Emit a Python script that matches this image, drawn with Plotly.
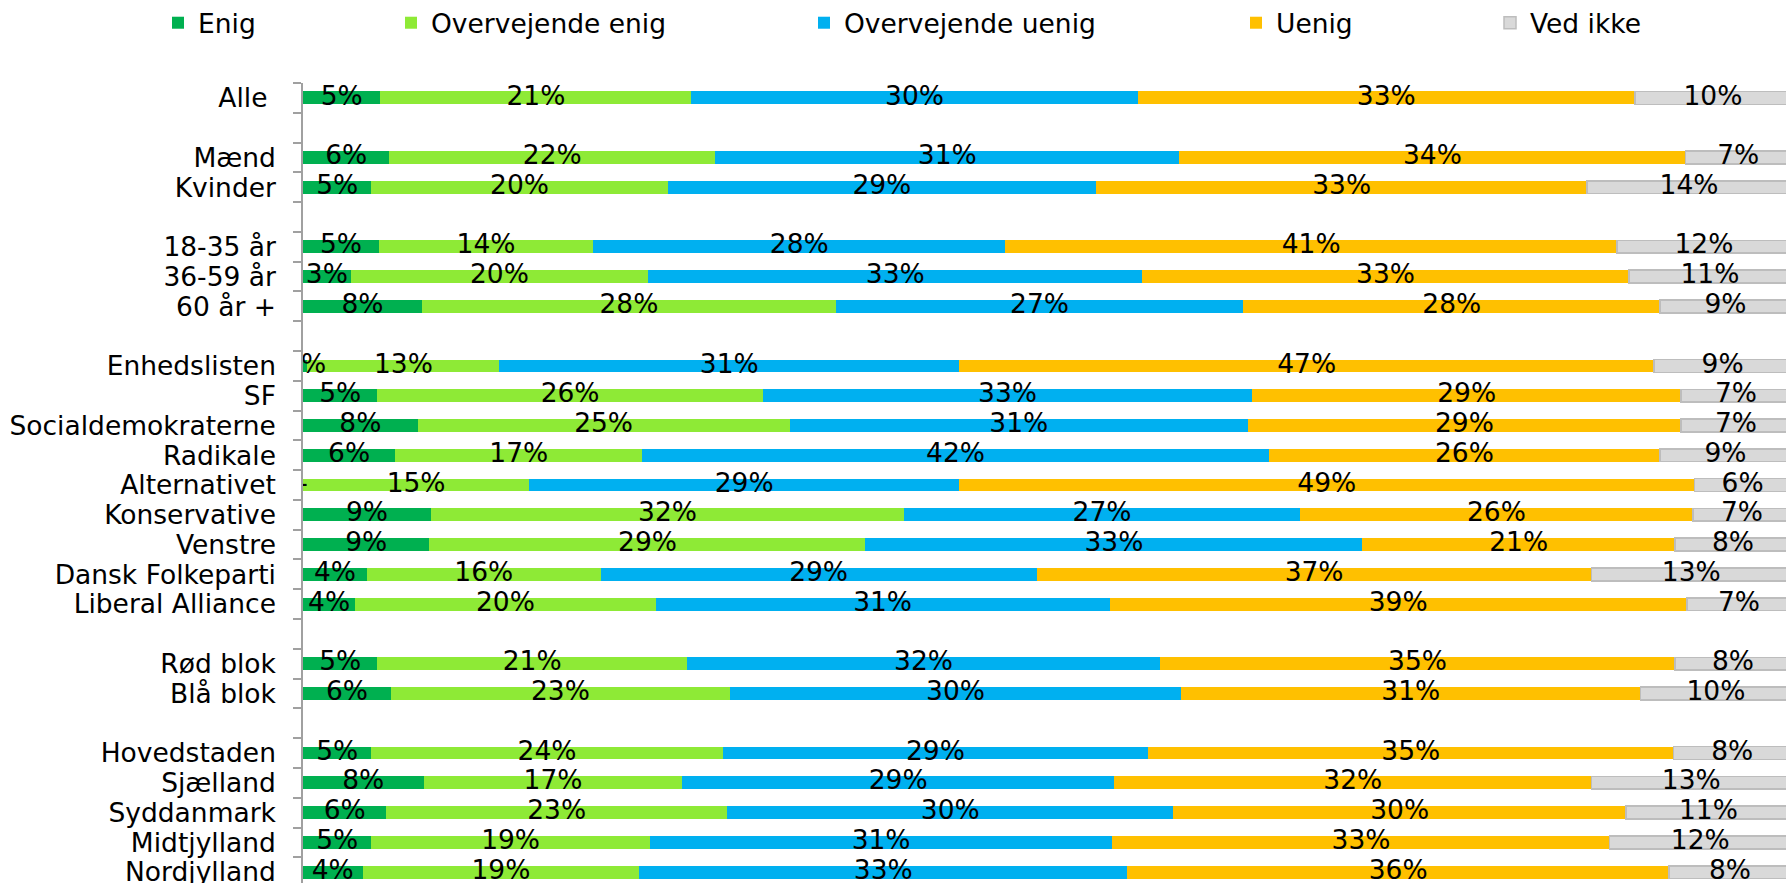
import plotly.graph_objects as go

# ---------------- data ----------------
categories = ["Alle\u00a0", "Mænd", "Kvinder", "18-35 år", "36-59 år", "60 år +",
              "Enhedslisten", "SF", "Socialdemokraterne", "Radikale", "Alternativet",
              "Konservative", "Venstre", "Dansk Folkeparti", "Liberal Alliance",
              "Rød blok", "Blå blok",
              "Hovedstaden", "Sjælland", "Syddanmark", "Midtjylland", "Nordjylland"]
gap_after = ["Alle\u00a0", "Kvinder", "60 år +", "Liberal Alliance", "Blå blok"]

series_names = ["Enig", "Overvejende enig", "Overvejende uenig", "Uenig", "Ved ikke"]

enig = [5.2, 5.8, 4.6, 5.1, 3.2, 8.0, 0.3, 5.0, 7.7, 6.2, 0.0, 8.6, 8.5, 4.3, 3.5,
        5.0, 5.9, 4.6, 8.1, 5.6, 4.6, 4.0]
overvejende_enig = [20.9, 21.9, 19.9, 14.4, 20.0, 27.8, 12.9, 25.9, 25.0, 16.6, 15.2,
                    31.8, 29.3, 15.7, 20.2, 20.8, 22.8, 23.6, 17.4, 22.9, 18.7, 18.6]
overvejende_uenig = [30.0, 31.2, 28.8, 27.7, 33.2, 27.4, 30.9, 32.9, 30.8, 42.1, 28.9,
                     26.6, 33.4, 29.3, 30.5, 31.8, 30.3, 28.6, 29.0, 30.0, 31.1, 32.8]
uenig = [33.4, 34.0, 33.0, 41.1, 32.7, 28.0, 46.7, 28.8, 29.1, 26.3, 49.4,
         26.4, 21.0, 37.3, 38.8, 34.6, 30.9, 35.3, 32.1, 30.4, 33.4, 36.4]
ved_ikke = [10.5, 7.1, 13.7, 11.7, 10.9, 8.8, 9.2, 7.4, 7.4, 8.8, 6.5,
            6.6, 7.8, 13.4, 7.0, 7.8, 10.1, 7.9, 13.4, 11.1, 12.2, 8.2]

enig_labels = ["5%", "6%", "5%", "5%", "3%", "8%", "0%", "5%", "8%", "6%", "-",
               "9%", "9%", "4%", "4%", "5%", "6%", "5%", "8%", "6%", "5%", "4%"]
overvejende_enig_labels = ["21%", "22%", "20%", "14%", "20%", "28%", "13%", "26%", "25%", "17%", "15%",
                           "32%", "29%", "16%", "20%", "21%", "23%", "24%", "17%", "23%", "19%", "19%"]
overvejende_uenig_labels = ["30%", "31%", "29%", "28%", "33%", "27%", "31%", "33%", "31%", "42%", "29%",
                            "27%", "33%", "29%", "31%", "32%", "30%", "29%", "29%", "30%", "31%", "33%"]
uenig_labels = ["33%", "34%", "33%", "41%", "33%", "28%", "47%", "29%", "29%", "26%", "49%",
                "26%", "21%", "37%", "39%", "35%", "31%", "35%", "32%", "30%", "33%", "36%"]
ved_ikke_labels = ["10%", "7%", "14%", "12%", "11%", "9%", "9%", "7%", "7%", "9%", "6%",
                   "7%", "8%", "13%", "7%", "8%", "10%", "8%", "13%", "11%", "12%", "8%"]

# ---------------- styling ----------------
colors = ["#00B050", "#8EEA36", "#00B0F0", "#FFC000", "#D9D9D9"]
FONT = "DejaVu Sans, Verdana, sans-serif"
FS = 26.5

series_values = [enig, overvejende_enig, overvejende_uenig, uenig, ved_ikke]
series_labels = [enig_labels, overvejende_enig_labels, overvejende_uenig_labels,
                 uenig_labels, ved_ikke_labels]

# category order with blank separator rows
order = []
blank_n = 1
for c in categories:
    order.append(c)
    if c in gap_after:
        order.append(" " * blank_n)
        blank_n += 1

W, H = 1786, 883
ML, MT = 303, 83
PX_PER_PCT = 14.88
pitch = 29.78

fig = go.Figure()
legend_text_x = [198, 431, 844, 1276, 1530]
legend_ids = ["legend", "legend2", "legend3", "legend4", "legend5"]

for i, (name, vals) in enumerate(zip(series_names, series_values)):
    line = dict(width=1.5, color="#BDBDBD") if i == 4 else dict(width=0)
    fig.add_trace(go.Bar(
        y=categories, x=vals, name=name, orientation="h",
        marker=dict(color=colors[i], line=line),
        width=0.43, legend=legend_ids[i], hoverinfo="skip",
    ))

# data labels centred in each segment
cum = [0.0] * len(categories)
for i, (vals, labs) in enumerate(zip(series_values, series_labels)):
    centers = [c + v / 2 for c, v in zip(cum, vals)]
    cum = [c + v for c, v in zip(cum, vals)]
    fig.add_trace(go.Scatter(
        y=categories, x=centers, text=labs, mode="text",
        textposition="middle center",
        textfont=dict(family=FONT, size=FS, color="#000000"),
        showlegend=False, cliponaxis=True, hoverinfo="skip",
    ))

plot_w = W - ML
plot_h = H - MT
legend_layouts = {}
for lid, tx in zip(legend_ids, legend_text_x):
    legend_layouts[lid] = dict(
        x=(tx - 40 - ML) / plot_w, xanchor="left",
        y=1 + (MT - 23) / plot_h, yanchor="middle",
        orientation="h", bgcolor="rgba(0,0,0,0)",
        font=dict(family=FONT, size=FS, color="#000000"),
        borderwidth=0,
    )

fig.update_layout(
    width=W, height=H,
    margin=dict(l=ML, r=0, t=MT, b=0, pad=0, autoexpand=False),
    barmode="stack",
    plot_bgcolor="white", paper_bgcolor="white",
    font=dict(family=FONT, size=FS, color="#000000"),
    xaxis=dict(range=[0, plot_w / PX_PER_PCT], visible=False, fixedrange=True),
    yaxis=dict(
        type="category", categoryorder="array", categoryarray=order,
        range=[plot_h / pitch - 0.5, -0.5],
        tickmode="linear", tick0=0, dtick=1,
        tickson="boundaries", ticks="outside", ticklen=8, tickwidth=1.5,
        tickcolor="#A0A0A0", showline=True, linecolor="#A0A0A0", linewidth=1.5,
        showgrid=False, zeroline=False,
        tickfont=dict(family=FONT, size=FS, color="#000000"),
        ticklabelstandoff=20, fixedrange=True,
    ),
    **legend_layouts,
)

fig.write_html(
    "out.html",
    config={"displayModeBar": False},
    post_script="document.body.style.margin='0';document.body.style.overflow='hidden';",
)
